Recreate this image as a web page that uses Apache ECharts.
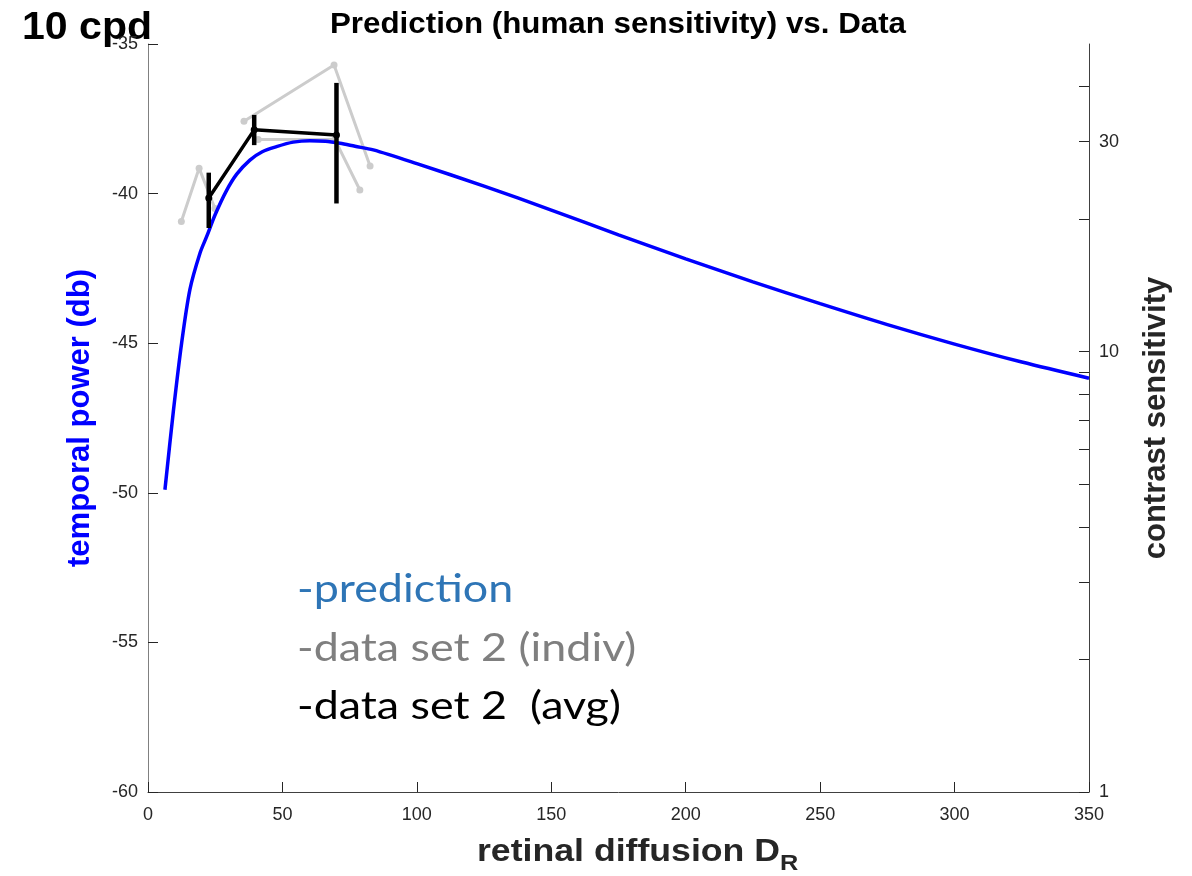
<!DOCTYPE html>
<html>
<head>
<meta charset="utf-8">
<title>Prediction (human sensitivity) vs. Data</title>
<script src="https://cdn.jsdelivr.net/npm/echarts@6/dist/echarts.min.js"></script>
<style>
  html, body { margin: 0; padding: 0; background: #fff; }
  #main { width: 1192px; height: 876px; }
</style>
</head>
<body>
<div id="main"></div>
<script>
// 预测曲线 (retinal diffusion, temporal power dB)
const predX = [6.3, 9.4, 12.5, 15.6, 19.3, 21.8, 25, 29.2, 33, 37.9, 42.5, 47.8, 54, 60.2, 66, 71.4, 77, 83.8,
  100, 125, 150, 175, 200, 225, 250, 275, 300, 325, 350]
const predY = [-49.9, -47.3, -45.0, -43.2, -42.0, -41.44, -40.7, -39.9, -39.35, -38.88, -38.6, -38.43, -38.28, -38.23, -38.25, -38.32, -38.42, -38.54,
  -39.0, -39.75, -40.55, -41.38, -42.18, -42.95, -43.68, -44.38, -45.03, -45.63, -46.17]

// 个体数据 (灰色)
const indiv1X = [12.4, 19, 24.9]
const indiv1Y = [-40.93, -39.15, -40.5]
const indiv2X = [35.7, 69.2, 82.6]
const indiv2Y = [-37.58, -35.7, -39.08]
const indiv3X = [41, 69.5, 78.8]
const indiv3Y = [-38.19, -38.19, -39.88]

// 平均数据 + 误差棒
const avgX = [22.6, 39.5, 70.1]
const avgY = [-40.15, -37.87, -38.04]
const avgLo = [-41.15, -38.38, -40.33]
const avgHi = [-39.3, -37.37, -36.3]

// 右轴刻度 (contrast sensitivity, log)
const csTicks = [1, 2, 3, 4, 5, 6, 7, 8, 9, 10, 20, 30, 40]
const csLabels = [1, 10, 30]
const csMax = 50

const zip = (xs, ys) => xs.map((x, i) => [x, ys[i]])

const myChart = echarts.init(document.querySelector('#main'))

const tickFont = { color: '#262626', fontSize: 18, fontFamily: 'Liberation Sans' }

// 图例文字 (原图是 Calibri，略宽，用 scaleX 拉一下)
const legendText = (text, top, color) => ({
  type: 'text', x: 297, y: top, scaleX: 1.18,
  style: { text, font: '38px Lato', fill: color, textVerticalAlign: 'middle' }
})

option = {
  animation: false,
  grid: { left: 148, right: 103, top: 44, bottom: 84, outerBoundsMode: 'none' },
  graphic: [
    {
      type: 'text', x: 22, y: 10, scaleX: 1.08,
      style: { text: '10 cpd', font: 'bold 38px "Liberation Sans"', fill: '#000' }
    },
    {
      type: 'text', x: 618, y: 10, scaleX: 1.08,
      style: { text: 'Prediction (human sensitivity) vs. Data', font: 'bold 29px "Liberation Sans"', fill: '#000', textAlign: 'center' }
    },
    {
      // x轴名称，带下标
      type: 'text', x: 477, y: 852, scaleX: 1.15,
      style: {
        text: '{a|retinal diffusion D}{s|R}',
        textVerticalAlign: 'middle',
        rich: {
          a: { fontSize: 31, fontWeight: 'bold', fill: '#262626', fontFamily: 'Liberation Sans' },
          s: { fontSize: 22, fontWeight: 'bold', fill: '#262626', fontFamily: 'Liberation Sans', padding: [24, 0, 0, 0] }
        }
      }
    },
    legendText('-prediction', 590, '#2e75b6'),
    legendText('-data set 2 (indiv)', 649, '#7f7f7f'),
    legendText('-data set 2  (avg)', 707, '#000')
  ],
  xAxis: {
    type: 'value',
    min: 0,
    max: 350,
    interval: 50,
    axisLine: { onZero: false, lineStyle: { color: '#404040', width: 1 } },
    axisTick: { inside: true, length: 10, lineStyle: { color: '#262626' } },
    axisLabel: { ...tickFont, margin: 14 },
    splitLine: { show: false }
  },
  yAxis: [
    {
      type: 'value',
      min: -60,
      max: -35,
      interval: 5,
      position: 'left',
      name: 'temporal power (db)',
      nameLocation: 'middle',
      nameGap: 52,
      nameTextStyle: { fontSize: 31, fontWeight: 'bold', color: '#0000ff', fontFamily: 'Liberation Sans' },
      axisLine: { show: true, lineStyle: { color: '#808080', width: 1 } },
      axisTick: { inside: true, length: 10, lineStyle: { color: '#262626' } },
      axisLabel: { ...tickFont, margin: 10 },
      splitLine: { show: false }
    },
    {
      // 对数轴，用 log10 值来放刻度
      type: 'value',
      min: 0,
      max: Math.log10(csMax),
      position: 'right',
      name: 'contrast sensitivity',
      nameLocation: 'middle',
      nameGap: 52,
      nameRotate: 90,
      nameTextStyle: { fontSize: 31, fontWeight: 'bold', color: '#262626', fontFamily: 'Liberation Sans' },
      axisLine: { show: true, lineStyle: { color: '#404040', width: 1 } },
      axisTick: {
        inside: true, length: 10, lineStyle: { color: '#262626' },
        customValues: csTicks.map(v => Math.log10(v))
      },
      axisLabel: {
        ...tickFont, margin: 10,
        customValues: csLabels.map(v => Math.log10(v)),
        formatter: v => String(Math.round(Math.pow(10, v)))
      },
      splitLine: { show: false }
    }
  ],
  series: [
    {
      type: 'line', data: zip(indiv1X, indiv1Y), z: 2,
      lineStyle: { color: '#cccccc', width: 3 }, itemStyle: { color: '#cccccc' },
      symbol: 'circle', symbolSize: 7
    },
    {
      type: 'line', data: zip(indiv2X, indiv2Y), z: 2,
      lineStyle: { color: '#cccccc', width: 3 }, itemStyle: { color: '#cccccc' },
      symbol: 'circle', symbolSize: 7
    },
    {
      type: 'line', data: zip(indiv3X, indiv3Y), z: 2,
      lineStyle: { color: '#cccccc', width: 3 }, itemStyle: { color: '#cccccc' },
      symbol: 'circle', symbolSize: 7
    },
    {
      type: 'line', data: zip(predX, predY), z: 3,
      smooth: 0.3, showSymbol: false,
      lineStyle: { color: '#0000ff', width: 3.5 }
    },
    {
      type: 'line', data: zip(avgX, avgY), z: 4,
      lineStyle: { color: '#000', width: 3.5 }, itemStyle: { color: '#000' },
      symbol: 'circle', symbolSize: 7
    },
    {
      // 误差棒
      type: 'custom', z: 5,
      data: avgX.map((x, i) => [x, avgLo[i], avgHi[i]]),
      renderItem: (params, api) => {
        const p1 = api.coord([api.value(0), api.value(1)])
        const p2 = api.coord([api.value(0), api.value(2)])
        return {
          type: 'line',
          shape: { x1: p1[0], y1: p1[1], x2: p2[0], y2: p2[1] },
          style: { stroke: '#000', lineWidth: 4.5 }
        }
      }
    }
  ]
}

myChart.setOption(option)
</script>
</body>
</html>
